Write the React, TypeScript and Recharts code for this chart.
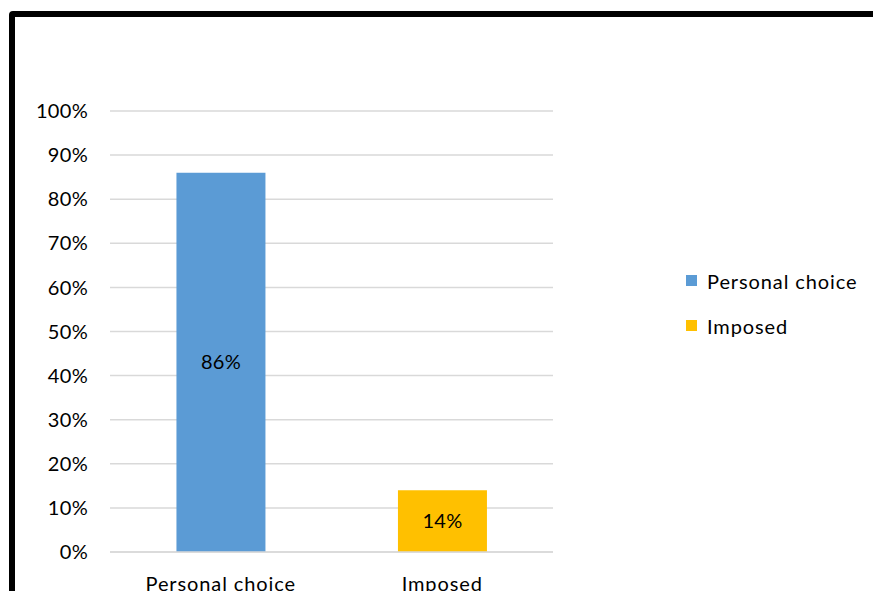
import React from "react";
import {
  BarChart,
  Bar,
  XAxis,
  YAxis,
  CartesianGrid,
  LabelList,
} from "recharts";

const categories = ["Personal choice", "Imposed"];
const personalValues = [86, null];
const imposedValues = [null, 14];
const yTicks = [0, 10, 20, 30, 40, 50, 60, 70, 80, 90, 100];

const seriesNames = ["Personal choice", "Imposed"];
const seriesColors = ["#5B9BD5", "#FFC000"];

const data = categories.map((name, i) => ({
  name,
  personal: personalValues[i],
  imposed: imposedValues[i],
}));

const font = "Lato, 'Open Sans', sans-serif";
const numStyle = { fontFamily: font, fontSize: 20, fill: "#000", letterSpacing: 0.3 };
const wordStyle = { fontFamily: font, fontSize: 20, fill: "#000", letterSpacing: 0.9 };

const pct = (v: any) => (v == null ? "" : `${v}%`);

export default function App() {
  return (
    <div
      style={{
        position: "absolute",
        left: 0,
        top: 0,
        width: 873,
        height: 591,
        overflow: "hidden",
        background: "#fff",
      }}
    >
      {/* moldura preta */}
      <div
        style={{
          position: "absolute",
          left: 9,
          top: 11,
          width: 1000,
          height: 800,
          border: "6px solid #000",
          borderRadius: 4,
        }}
      />
      <div style={{ position: "absolute", left: 0, top: 0 }}>
        <BarChart
          width={873}
          height={591}
          data={data}
          margin={{ top: 111, right: 320, bottom: 0, left: 0 }}
          barCategoryGap="30%"
        >
          <CartesianGrid vertical={false} stroke="#d9d9d9" strokeWidth={1.5} />
          <XAxis
            dataKey="name"
            height={39}
            axisLine={{ stroke: "#d9d9d9", strokeWidth: 1.5 }}
            tickLine={false}
            tickSize={0}
            tickMargin={25}
            tick={wordStyle}
          />
          <YAxis
            width={110}
            domain={[0, 100]}
            ticks={yTicks}
            tickFormatter={pct}
            axisLine={false}
            tickLine={false}
            tickSize={0}
            tickMargin={22}
            tick={numStyle}
          />
          <Bar
            dataKey="personal"
            name={seriesNames[0]}
            stackId="a"
            fill={seriesColors[0]}
            isAnimationActive={false}
          >
            <LabelList dataKey="personal" position="center" formatter={pct} style={numStyle} />
          </Bar>
          <Bar
            dataKey="imposed"
            name={seriesNames[1]}
            stackId="a"
            fill={seriesColors[1]}
            isAnimationActive={false}
          >
            <LabelList dataKey="imposed" position="center" formatter={pct} style={numStyle} />
          </Bar>
        </BarChart>
      </div>
      {/* legenda */}
      <div
        style={{
          position: "absolute",
          left: 686,
          top: 258,
          fontFamily: font,
          fontSize: 20,
          letterSpacing: 0.9,
          color: "#000",
        }}
      >
        {seriesNames.map((n, i) => (
          <div key={n} style={{ display: "flex", alignItems: "center", height: 45 }}>
            <span
              style={{
                display: "inline-block",
                width: 11,
                height: 11,
                background: seriesColors[i],
                marginRight: 10,
              }}
            />
            <span>{n}</span>
          </div>
        ))}
      </div>
    </div>
  );
}
